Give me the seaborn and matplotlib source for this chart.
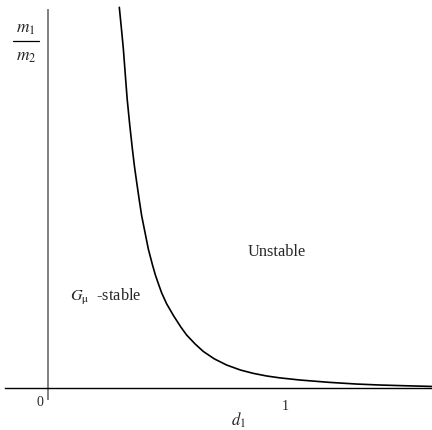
import numpy as np
import pandas as pd
import matplotlib
matplotlib.use('Agg')
import matplotlib.pyplot as plt
import seaborn as sns

# boundary curve (d1 against m1/m2)
d1 = [0.301, 0.310, 0.318, 0.326, 0.334, 0.345, 0.356, 0.365, 0.374, 0.385,
      0.395, 0.410, 0.423, 0.440, 0.452, 0.465, 0.479, 0.500, 0.529, 0.560,
      0.584, 0.620, 0.654, 0.700, 0.752, 0.810, 0.864, 0.920, 0.976, 1.060,
      1.186, 1.300, 1.396, 1.500, 1.615]
ratio = [1.601, 1.510, 1.426, 1.320, 1.216, 1.105, 1.005, 0.930, 0.866, 0.790,
         0.725, 0.650, 0.585, 0.520, 0.478, 0.440, 0.401, 0.355, 0.305, 0.257,
         0.224, 0.186, 0.155, 0.124, 0.098, 0.077, 0.063, 0.052, 0.044, 0.035,
         0.025, 0.018, 0.014, 0.011, 0.008]

x_ticks = [1]
x_tick_labels = ['1']

sns.set_style('white')
plt.rcParams['font.family'] = ['Liberation Serif', 'DejaVu Serif']
plt.rcParams['mathtext.fontset'] = 'stix'

df = pd.DataFrame({'d1': d1, 'ratio': ratio})

fig = plt.figure(figsize=(4.32, 4.31), dpi=100)
ax = fig.add_axes([0, 0, 1, 1])

sns.lineplot(data=df, x='d1', y='ratio', color='black', linewidth=1.2, ax=ax)

ax.set_xlim(-0.2004, 1.615)
ax.set_ylim(-0.175, 1.636)

# axes drawn through the origin
ax.spines['top'].set_visible(False)
ax.spines['right'].set_visible(False)
ax.spines['left'].set_position(('data', 0))
ax.spines['bottom'].set_position(('data', 0))
ax.spines['left'].set_bounds(-0.045, 1.59)
ax.spines['bottom'].set_bounds(-0.18, 1.615)
ax.spines['left'].set_color('#808080')
ax.spines['left'].set_linewidth(1.4)
ax.spines['bottom'].set_color('black')
ax.spines['bottom'].set_linewidth(1.0)

ax.set_xticks(x_ticks)
ax.set_xticklabels(x_tick_labels)
ax.set_yticks([])
ax.tick_params(axis='x', direction='out', length=5, width=0.8, pad=3,
               labelsize=10, color='#555555')
ax.set_xlabel('')
ax.set_ylabel('')

ax.text(-0.032, -0.055, '0', fontsize=10, ha='center', va='center')
ax.text(0.800, -0.129, r'$d_1$', fontsize=12, ha='center', va='center')

# m1 / m2 written as a stacked fraction
ax.text(-0.091, 1.514, r'$m_1$', fontsize=12.5, ha='center', va='center')
ax.text(-0.091, 1.398, r'$m_2$', fontsize=12.5, ha='center', va='center')
ax.plot([-0.147, -0.036], [1.46, 1.46], color='black', linewidth=0.9, clip_on=False)

ax.text(0.963, 0.577, 'Unstable', fontsize=11.7, ha='center', va='center')
ax.text(0.094, 0.388, r'$G_{\mathrm{\mu}}$  -stable', fontsize=11.7, ha='left', va='center')

fig.savefig('out.png', dpi=100)
